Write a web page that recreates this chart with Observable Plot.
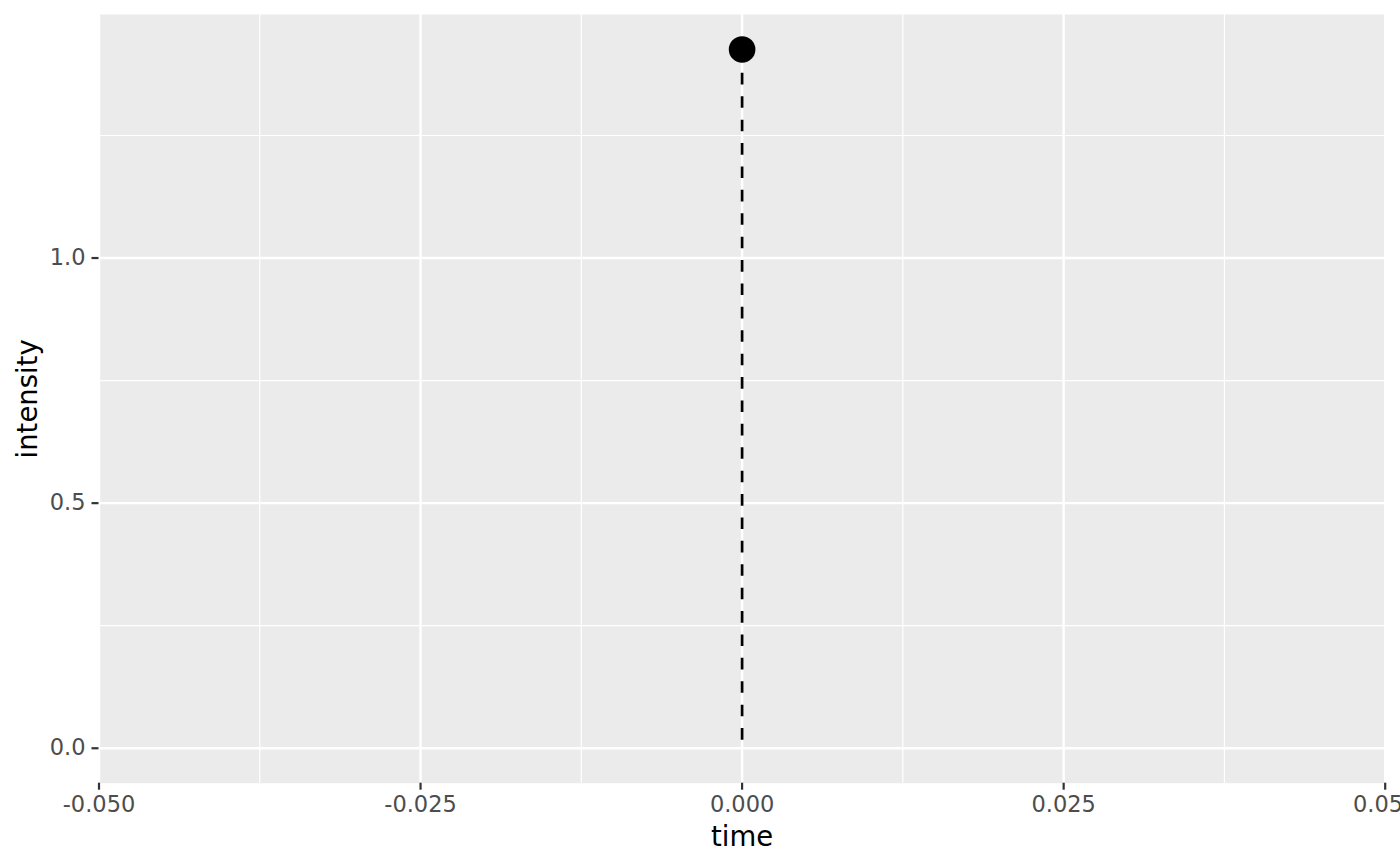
<!DOCTYPE html>
<html>
<head>
<meta charset="utf-8">
<script src="https://cdn.jsdelivr.net/npm/d3@7"></script>
<script src="https://cdn.jsdelivr.net/npm/@observablehq/plot@0.6"></script>
<style>
  html, body { margin: 0; padding: 0; background: #fff; overflow: hidden; }
  #chart svg { display: block; }
</style>
</head>
<body>
<div id="chart"></div>
<script>
// Data
const time = [0];
const intensity = [1.4255];

// Axis ticks
const xMajor = [-0.05, -0.025, 0, 0.025, 0.05];
const xMinor = [-0.0375, -0.0125, 0.0125, 0.0375];
const yMajor = [0, 0.5, 1.0];
const yMinor = [0.25, 0.75, 1.25];
const xLimits = [-0.05, 0.05];

const points = time.map((t, i) => ({time: t, intensity: intensity[i]}));
const ymin = Math.min(0, d3.min(intensity));
const ymax = d3.max(intensity);
const span = ymax - ymin;
const yDomain = [ymin - 0.05 * span, ymax + 0.05 * span];

const font = "DejaVu Sans, Verdana, sans-serif";

const chart = Plot.plot({
  width: 1400,
  height: 866,
  marginLeft: 98.5,
  marginRight: 15.3,
  marginTop: 14,
  marginBottom: 83.3,
  style: {fontFamily: font, background: "#fff"},
  x: {domain: xLimits},
  y: {domain: yDomain},
  marks: [
    Plot.frame({fill: "#EBEBEB", stroke: null}),
    Plot.ruleX(xMinor, {stroke: "#fff", strokeWidth: 1.2}),
    Plot.ruleY(yMinor, {stroke: "#fff", strokeWidth: 1.2}),
    Plot.ruleX(xMajor, {stroke: "#fff", strokeWidth: 2.4}),
    Plot.ruleY(yMajor, {stroke: "#fff", strokeWidth: 2.4}),
    Plot.link(points, {
      x1: "time", y1: "intensity", x2: "time", y2: () => 0,
      stroke: "#000", strokeWidth: 2.7, strokeDasharray: "11.6,11.8"
    }),
    Plot.dot(points, {x: "time", y: "intensity", r: 13.3, fill: "#000", stroke: null}),
    Plot.axisX(xMajor, {
      tickSize: 7, tickPadding: 6, stroke: "#333", strokeWidth: 2.2,
      fill: "#4D4D4D", fontSize: 22.5, tickFormat: d => d.toFixed(3), label: null
    }),
    Plot.axisY(yMajor, {
      tickSize: 7, tickPadding: 6.5, stroke: "#333", strokeWidth: 2.2,
      fill: "#4D4D4D", fontSize: 22.5, tickFormat: d => d.toFixed(1), label: null
    }),
    Plot.text(["time"], {
      frameAnchor: "bottom", lineAnchor: "bottom", dy: 63,
      fontSize: 27.5, fill: "#000", text: d => d
    }),
    Plot.text(["intensity"], {
      frameAnchor: "left", textAnchor: "middle", lineAnchor: "bottom", rotate: -90, dx: -62.5,
      fontSize: 27.5, fill: "#000", text: d => d
    })
  ]
});
document.getElementById("chart").appendChild(chart);
</script>
</body>
</html>
